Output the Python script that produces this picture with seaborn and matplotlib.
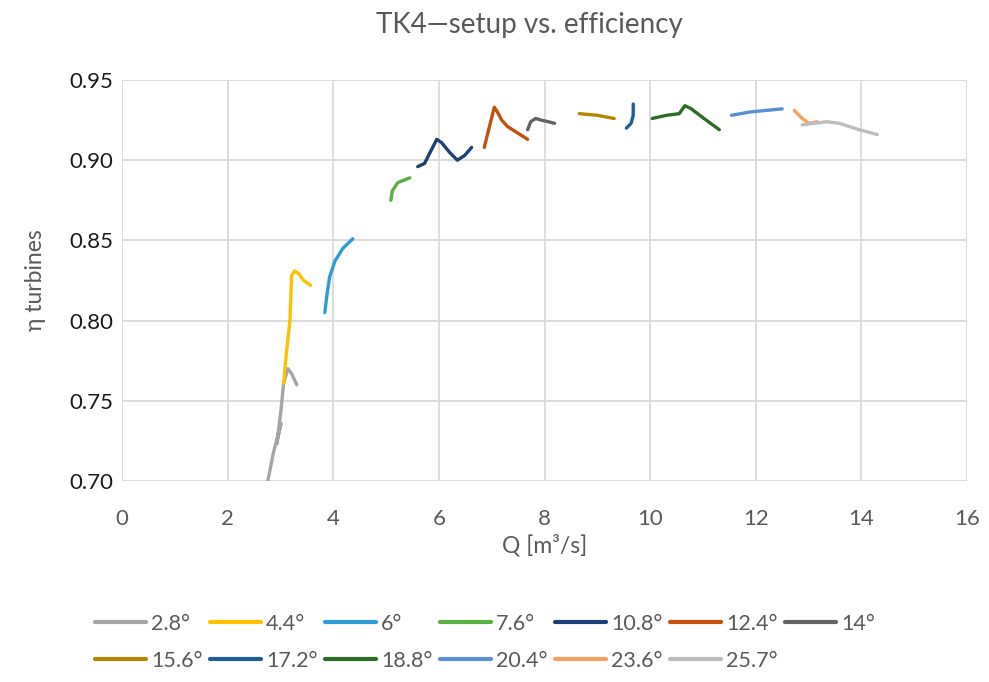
import numpy as np
import pandas as pd
import matplotlib
matplotlib.use("Agg")
import matplotlib.pyplot as plt
from matplotlib.lines import Line2D
import seaborn as sns

# Blade setting angles
angles = ["2.8°", "4.4°", "6°", "7.6°", "10.8°", "12.4°", "14°",
          "15.6°", "17.2°", "18.8°", "20.4°", "23.6°", "25.7°"]

# Flow rate Q [m3/s] and turbine efficiency for each setting
q_28 = [2.76, 2.87, 3.01, 2.93, 3.01, 3.06, 3.14, 3.21, 3.31]
eta_28 = [0.700, 0.718, 0.736, 0.723, 0.744, 0.761, 0.770, 0.767, 0.760]

q_44 = [3.06, 3.12, 3.18, 3.20, 3.21, 3.27, 3.35, 3.44, 3.57]
eta_44 = [0.761, 0.782, 0.800, 0.819, 0.828, 0.831, 0.829, 0.825, 0.822]

q_60 = [3.84, 3.88, 3.93, 4.03, 4.18, 4.37]
eta_60 = [0.805, 0.816, 0.827, 0.837, 0.845, 0.851]

q_76 = [5.09, 5.12, 5.22, 5.45]
eta_76 = [0.875, 0.881, 0.886, 0.889]

q_108 = [5.60, 5.73, 5.82, 5.96, 6.05, 6.20, 6.35, 6.49, 6.62]
eta_108 = [0.896, 0.898, 0.904, 0.913, 0.911, 0.905, 0.900, 0.903, 0.908]

q_124 = [6.86, 6.92, 6.98, 7.05, 7.11, 7.19, 7.30, 7.68]
eta_124 = [0.908, 0.916, 0.924, 0.933, 0.930, 0.925, 0.921, 0.913]

q_140 = [7.68, 7.74, 7.83, 7.94, 8.07, 8.19]
eta_140 = [0.919, 0.924, 0.926, 0.925, 0.924, 0.923]

q_156 = [8.66, 9.00, 9.32]
eta_156 = [0.929, 0.928, 0.926]

q_172 = [9.55, 9.64, 9.68, 9.68]
eta_172 = [0.920, 0.923, 0.928, 0.935]

q_188 = [10.04, 10.31, 10.55, 10.66, 10.78, 11.02, 11.31]
eta_188 = [0.926, 0.928, 0.929, 0.934, 0.932, 0.926, 0.919]

q_204 = [11.54, 11.88, 12.18, 12.50]
eta_204 = [0.928, 0.930, 0.931, 0.932]

q_236 = [12.73, 12.88, 13.01, 13.16]
eta_236 = [0.931, 0.926, 0.923, 0.924]

q_257 = [12.88, 13.10, 13.35, 13.58, 13.96, 14.30]
eta_257 = [0.922, 0.923, 0.924, 0.923, 0.919, 0.916]

q_all = [q_28, q_44, q_60, q_76, q_108, q_124, q_140,
         q_156, q_172, q_188, q_204, q_236, q_257]
eta_all = [eta_28, eta_44, eta_60, eta_76, eta_108, eta_124, eta_140,
           eta_156, eta_172, eta_188, eta_204, eta_236, eta_257]

colors = ["#A5A5A5", "#FFC000", "#2F9BD8", "#5AB043", "#1F3F77", "#C2500F",
          "#636363", "#B38600", "#1F5F99", "#2E6B27", "#5B8FD5", "#F7A060",
          "#BDBDBD"]
palette = dict(zip(angles, colors))

rows = []
for ang, qs, es in zip(angles, q_all, eta_all):
    for i, (q, e) in enumerate(zip(qs, es)):
        rows.append({"angle": ang, "order": i, "Q": q, "eta": e})
df = pd.DataFrame(rows)

sns.set_theme(style="white")
plt.rcParams["font.family"] = ["Lato", "DejaVu Sans"]

W, H = 989, 682
fig = plt.figure(figsize=(W / 100, H / 100), dpi=100)
ax = fig.add_axes([122 / W, 1 - 481 / H, (967 - 122) / W, (481 - 80) / H])

sns.lineplot(data=df, x="Q", y="eta", hue="angle", units="angle",
             estimator=None, sort=False, palette=palette, hue_order=angles,
             linewidth=2.4, legend=False, ax=ax, zorder=3)

ax.set_xlim(0, 16)
ax.set_ylim(0.70, 0.95)
ax.set_xticks(np.arange(0, 17, 2))
ax.set_yticks(np.arange(0.70, 0.951, 0.05))
ax.set_yticklabels([f"{v:.2f}" for v in np.arange(0.70, 0.951, 0.05)])
ax.grid(True, color="#D9D9D9", linewidth=1.3, zorder=0)
for s in ax.spines.values():
    s.set_visible(False)
ax.tick_params(axis="y", length=0, labelsize=16, colors="#1A1A1A", pad=6)
ax.tick_params(axis="x", length=0, labelsize=16, colors="#595959", pad=20)
ax.set_xlabel("Q [m³/s]", fontsize=16.5, color="#595959", labelpad=4)
ax.set_ylabel("η turbines", fontsize=16.5, color="#595959", labelpad=17)

fig.suptitle("TK4—setup vs. efficiency", x=0.535, y=0.982, fontsize=20,
             color="#595959")

# Legend: two rows, entries placed on a fixed column pitch
col_x0, col_pitch = 95, 115
row_y = [624, 661]
per_row = 7
for k, ang in enumerate(angles):
    r, c = divmod(k, per_row)
    h = Line2D([], [], color=palette[ang], linewidth=3)
    leg = fig.legend([h], [ang], loc="center left",
                     bbox_to_anchor=((col_x0 + c * col_pitch) / W,
                                     1 - row_y[r] / H),
                     borderaxespad=0, borderpad=0, frameon=False,
                     fontsize=15.5, handlelength=2.35, handletextpad=0.25)
    for t in leg.get_texts():
        t.set_color("#595959")

fig.savefig("out.png", dpi=100)
